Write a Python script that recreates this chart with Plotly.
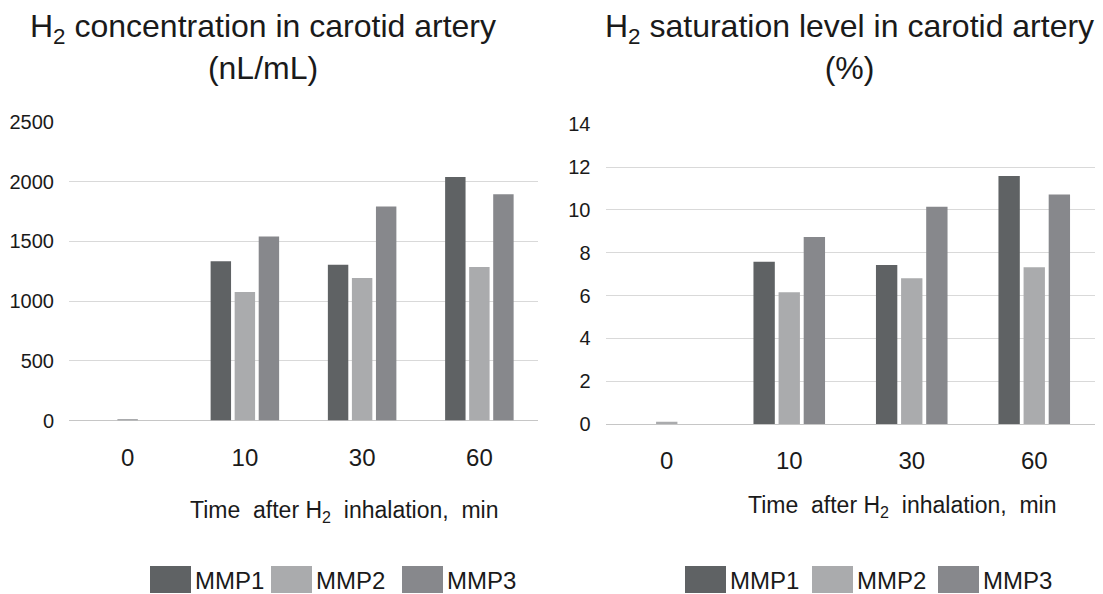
import plotly.graph_objects as go

W, H = 1103, 594
OFF = 8  # page body margin offset applied by the browser

# ---------------- data ----------------
time_labels = ["0", "10", "30", "60"]
series_names = ["MMP1", "MMP2", "MMP3"]
series_colors = ["#5f6264", "#aaabad", "#87888c"]

conc_mmp1 = [0, 1333, 1305, 2039]
conc_mmp2 = [8, 1077, 1194, 1286]
conc_mmp3 = [0, 1540, 1793, 1894]

sat_mmp1 = [0, 7.58, 7.43, 11.59]
sat_mmp2 = [0.1, 6.15, 6.81, 7.32]
sat_mmp3 = [0, 8.74, 10.15, 10.72]

conc_ticks = [0, 500, 1000, 1500, 2000, 2500]
sat_ticks = [0, 2, 4, 6, 8, 10, 12, 14]

title_left = "H<sub>2</sub> concentration in carotid artery<br>(nL/mL)"
title_right = "H<sub>2</sub> saturation level in carotid artery<br>(%)"
xtitle = "Time  after H<sub>2</sub>  inhalation,  min"

FONT = "Liberation Sans, Arial, Helvetica, sans-serif"
TXT = "#1a1a1a"


def px(x):
    return (x - OFF) / W


def py(y):
    return 1 - (y - OFF) / H


fig = go.Figure()

conc_series = [conc_mmp1, conc_mmp2, conc_mmp3]
sat_series = [sat_mmp1, sat_mmp2, sat_mmp3]

for name, color, vals in zip(series_names, series_colors, conc_series):
    fig.add_trace(go.Bar(x=time_labels, y=vals, name=name, marker_color=color,
                         marker_line_width=0, xaxis="x", yaxis="y", showlegend=False))
for name, color, vals in zip(series_names, series_colors, sat_series):
    fig.add_trace(go.Bar(x=time_labels, y=vals, name=name, marker_color=color,
                         marker_line_width=0, xaxis="x2", yaxis="y2", showlegend=False))

common_x = dict(type="category", showgrid=False, showline=False, ticks="",
                tickfont=dict(size=24, color=TXT, family=FONT), ticklabelstandoff=20,
                automargin=False)
common_y = dict(showgrid=True, gridcolor="#d9d9d9", gridwidth=1, zeroline=True,
                zerolinecolor="#c6c6c6", zerolinewidth=1, showline=False, ticks="",
                tickfont=dict(size=20, color=TXT, family=FONT), ticklabelstandoff=14,
                automargin=False)

fig.update_layout(
    width=W, height=H, autosize=False,
    margin=dict(l=0, r=0, t=0, b=0, pad=0),
    paper_bgcolor="white", plot_bgcolor="white",
    barmode="group", bargap=0.385, bargroupgap=0.15,
    font=dict(family=FONT, color=TXT),
    xaxis=dict(domain=[px(69), px(538)], anchor="y", **common_x),
    yaxis=dict(domain=[py(420.5), py(122)], anchor="x", range=[0, 2500],
               tickvals=conc_ticks, **common_y),
    xaxis2=dict(domain=[px(605.5), px(1095.5)], anchor="y2", **common_x),
    yaxis2=dict(domain=[py(424), py(124.3)], anchor="x2", range=[0, 14],
                tickvals=sat_ticks, **common_y),
)

annotations = [
    dict(text=title_left, x=px(263), y=py(47), xref="paper", yref="paper",
         xanchor="center", yanchor="middle", showarrow=False,
         font=dict(size=32, color=TXT, family=FONT)),
    dict(text=title_right, x=px(849), y=py(47), xref="paper", yref="paper",
         xanchor="center", yanchor="middle", showarrow=False,
         font=dict(size=32, color=TXT, family=FONT)),
    dict(text=xtitle, x=px(344), y=py(511), xref="paper", yref="paper",
         xanchor="center", yanchor="middle", showarrow=False,
         font=dict(size=23, color=TXT, family=FONT)),
    dict(text=xtitle, x=px(902), y=py(506), xref="paper", yref="paper",
         xanchor="center", yanchor="middle", showarrow=False,
         font=dict(size=23, color=TXT, family=FONT)),
]

shapes = []
legend_starts = {"left": [150, 271, 402], "right": [685, 812, 938]}
for side, starts in legend_starts.items():
    for name, color, x0 in zip(series_names, series_colors, starts):
        shapes.append(dict(type="rect", xref="paper", yref="paper",
                           x0=px(x0), x1=px(x0 + 41), y0=py(593), y1=py(566),
                           fillcolor=color, line=dict(width=0)))
        annotations.append(dict(text=name, x=px(x0 + 43), y=py(580), xref="paper",
                                yref="paper", xanchor="left", yanchor="middle",
                                showarrow=False,
                                font=dict(size=24, color=TXT, family=FONT)))

fig.update_layout(annotations=annotations, shapes=shapes)

fig.write_html("out.html")
